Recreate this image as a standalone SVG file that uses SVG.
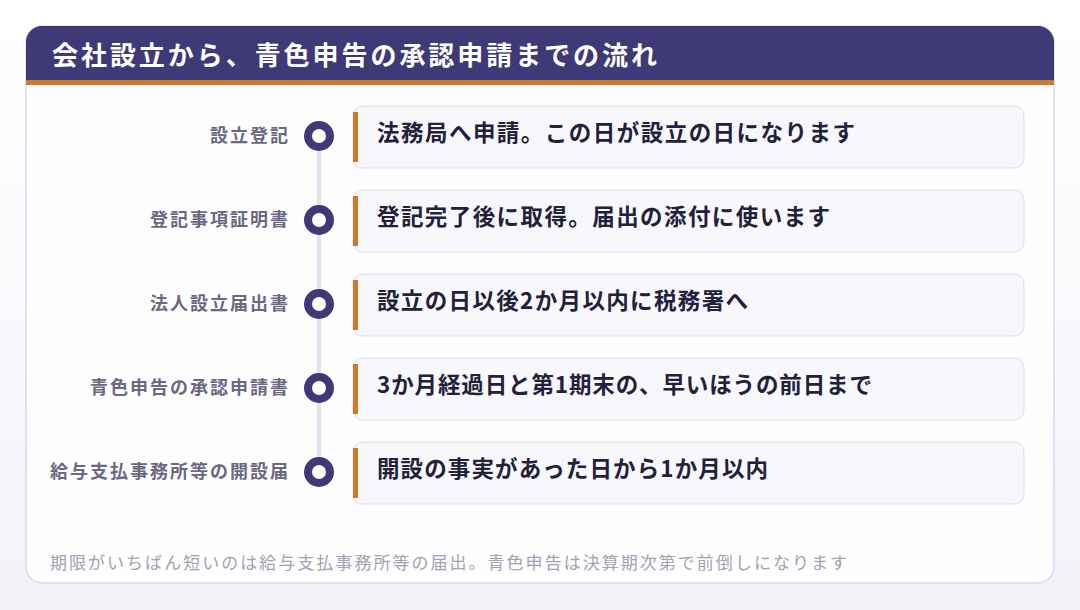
<svg xmlns="http://www.w3.org/2000/svg" width="1080" height="610" viewBox="0 0 1080 610">
<defs>
<linearGradient id="bg" x1="0" y1="0" x2="0" y2="1"><stop offset="0" stop-color="#ffffff"/><stop offset="1" stop-color="#f4f2f9"/></linearGradient>
<clipPath id="cardclip"><rect x="26" y="26" width="1028" height="557" rx="16"/></clipPath>
</defs>
<style>
.lbl{font-family:"Noto Sans CJK JP","Noto Sans",sans-serif;font-size:18px;font-weight:700;fill:#6b6883;text-anchor:end}
.txt{font-family:"Noto Sans CJK JP","Noto Sans",sans-serif;font-size:22.5px;font-weight:700;fill:#23213a}
.box{fill:#f8f7fc;stroke:#e2dff2;stroke-width:1.2}
.bar{fill:#c97d2a}
.dot{fill:#ffffff;stroke:#403978;stroke-width:8}
</style>
<rect width="1080" height="610" fill="url(#bg)"/>
<rect x="26" y="26" width="1028" height="557" rx="16" fill="#fefefe" stroke="#dcd9ee" stroke-width="1.5"/>
<g clip-path="url(#cardclip)">
<rect x="26" y="26" width="1028" height="54" fill="#403978"/>
<rect x="26" y="80" width="1028" height="5" fill="#c97d2a"/>
</g>
<text x="52" y="65" font-family="'Noto Sans CJK JP','Noto Sans',sans-serif" font-size="26" font-weight="700" fill="#ffffff" textLength="605" lengthAdjust="spacing">会社設立から、青色申告の承認申請までの流れ</text>
<g id="connectors">
<line x1="319" y1="136" x2="319" y2="472" stroke="#e3e0f0" stroke-width="4"/>
</g>
<g id="n1">
<rect class="box" x="353" y="106" width="671" height="62" rx="10"/>
<rect class="bar" x="353" y="112" width="5" height="50"/>
<circle class="dot" cx="319" cy="136" r="11"/>
<text class="lbl" x="288" y="142" textLength="78" lengthAdjust="spacing">設立登記</text>
<text class="txt" x="377" y="141" textLength="478" lengthAdjust="spacing">法務局へ申請。この日が設立の日になります</text>
</g>
<g id="n2">
<rect class="box" x="353" y="190" width="671" height="62" rx="10"/>
<rect class="bar" x="353" y="196" width="5" height="50"/>
<circle class="dot" cx="319" cy="220" r="11"/>
<text class="lbl" x="288" y="226" textLength="138" lengthAdjust="spacing">登記事項証明書</text>
<text class="txt" x="377" y="225" textLength="453" lengthAdjust="spacing">登記完了後に取得。届出の添付に使います</text>
</g>
<g id="n3">
<rect class="box" x="353" y="274" width="671" height="62" rx="10"/>
<rect class="bar" x="353" y="280" width="5" height="50"/>
<circle class="dot" cx="319" cy="304" r="11"/>
<text class="lbl" x="288" y="310" textLength="138" lengthAdjust="spacing">法人設立届出書</text>
<text class="txt" x="377" y="309" textLength="371" lengthAdjust="spacing">設立の日以後2か月以内に税務署へ</text>
</g>
<g id="n4">
<rect class="box" x="353" y="358" width="671" height="62" rx="10"/>
<rect class="bar" x="353" y="364" width="5" height="50"/>
<circle class="dot" cx="319" cy="388" r="11"/>
<text class="lbl" x="288" y="394" textLength="198" lengthAdjust="spacing">青色申告の承認申請書</text>
<text class="txt" x="377" y="393" textLength="495" lengthAdjust="spacing">3か月経過日と第1期末の、早いほうの前日まで</text>
</g>
<g id="n5">
<rect class="box" x="353" y="442" width="671" height="62" rx="10"/>
<rect class="bar" x="353" y="448" width="5" height="50"/>
<circle class="dot" cx="319" cy="472" r="11"/>
<text class="lbl" x="288" y="478" textLength="238" lengthAdjust="spacing">給与支払事務所等の開設届</text>
<text class="txt" x="377" y="477" textLength="391" lengthAdjust="spacing">開設の事実があった日から1か月以内</text>
</g>
<text x="50" y="569" font-family="'Noto Sans CJK JP','Noto Sans',sans-serif" font-size="17" fill="#a3a1b3" textLength="797" lengthAdjust="spacing">期限がいちばん短いのは給与支払事務所等の届出。青色申告は決算期次第で前倒しになります</text>
</svg>
